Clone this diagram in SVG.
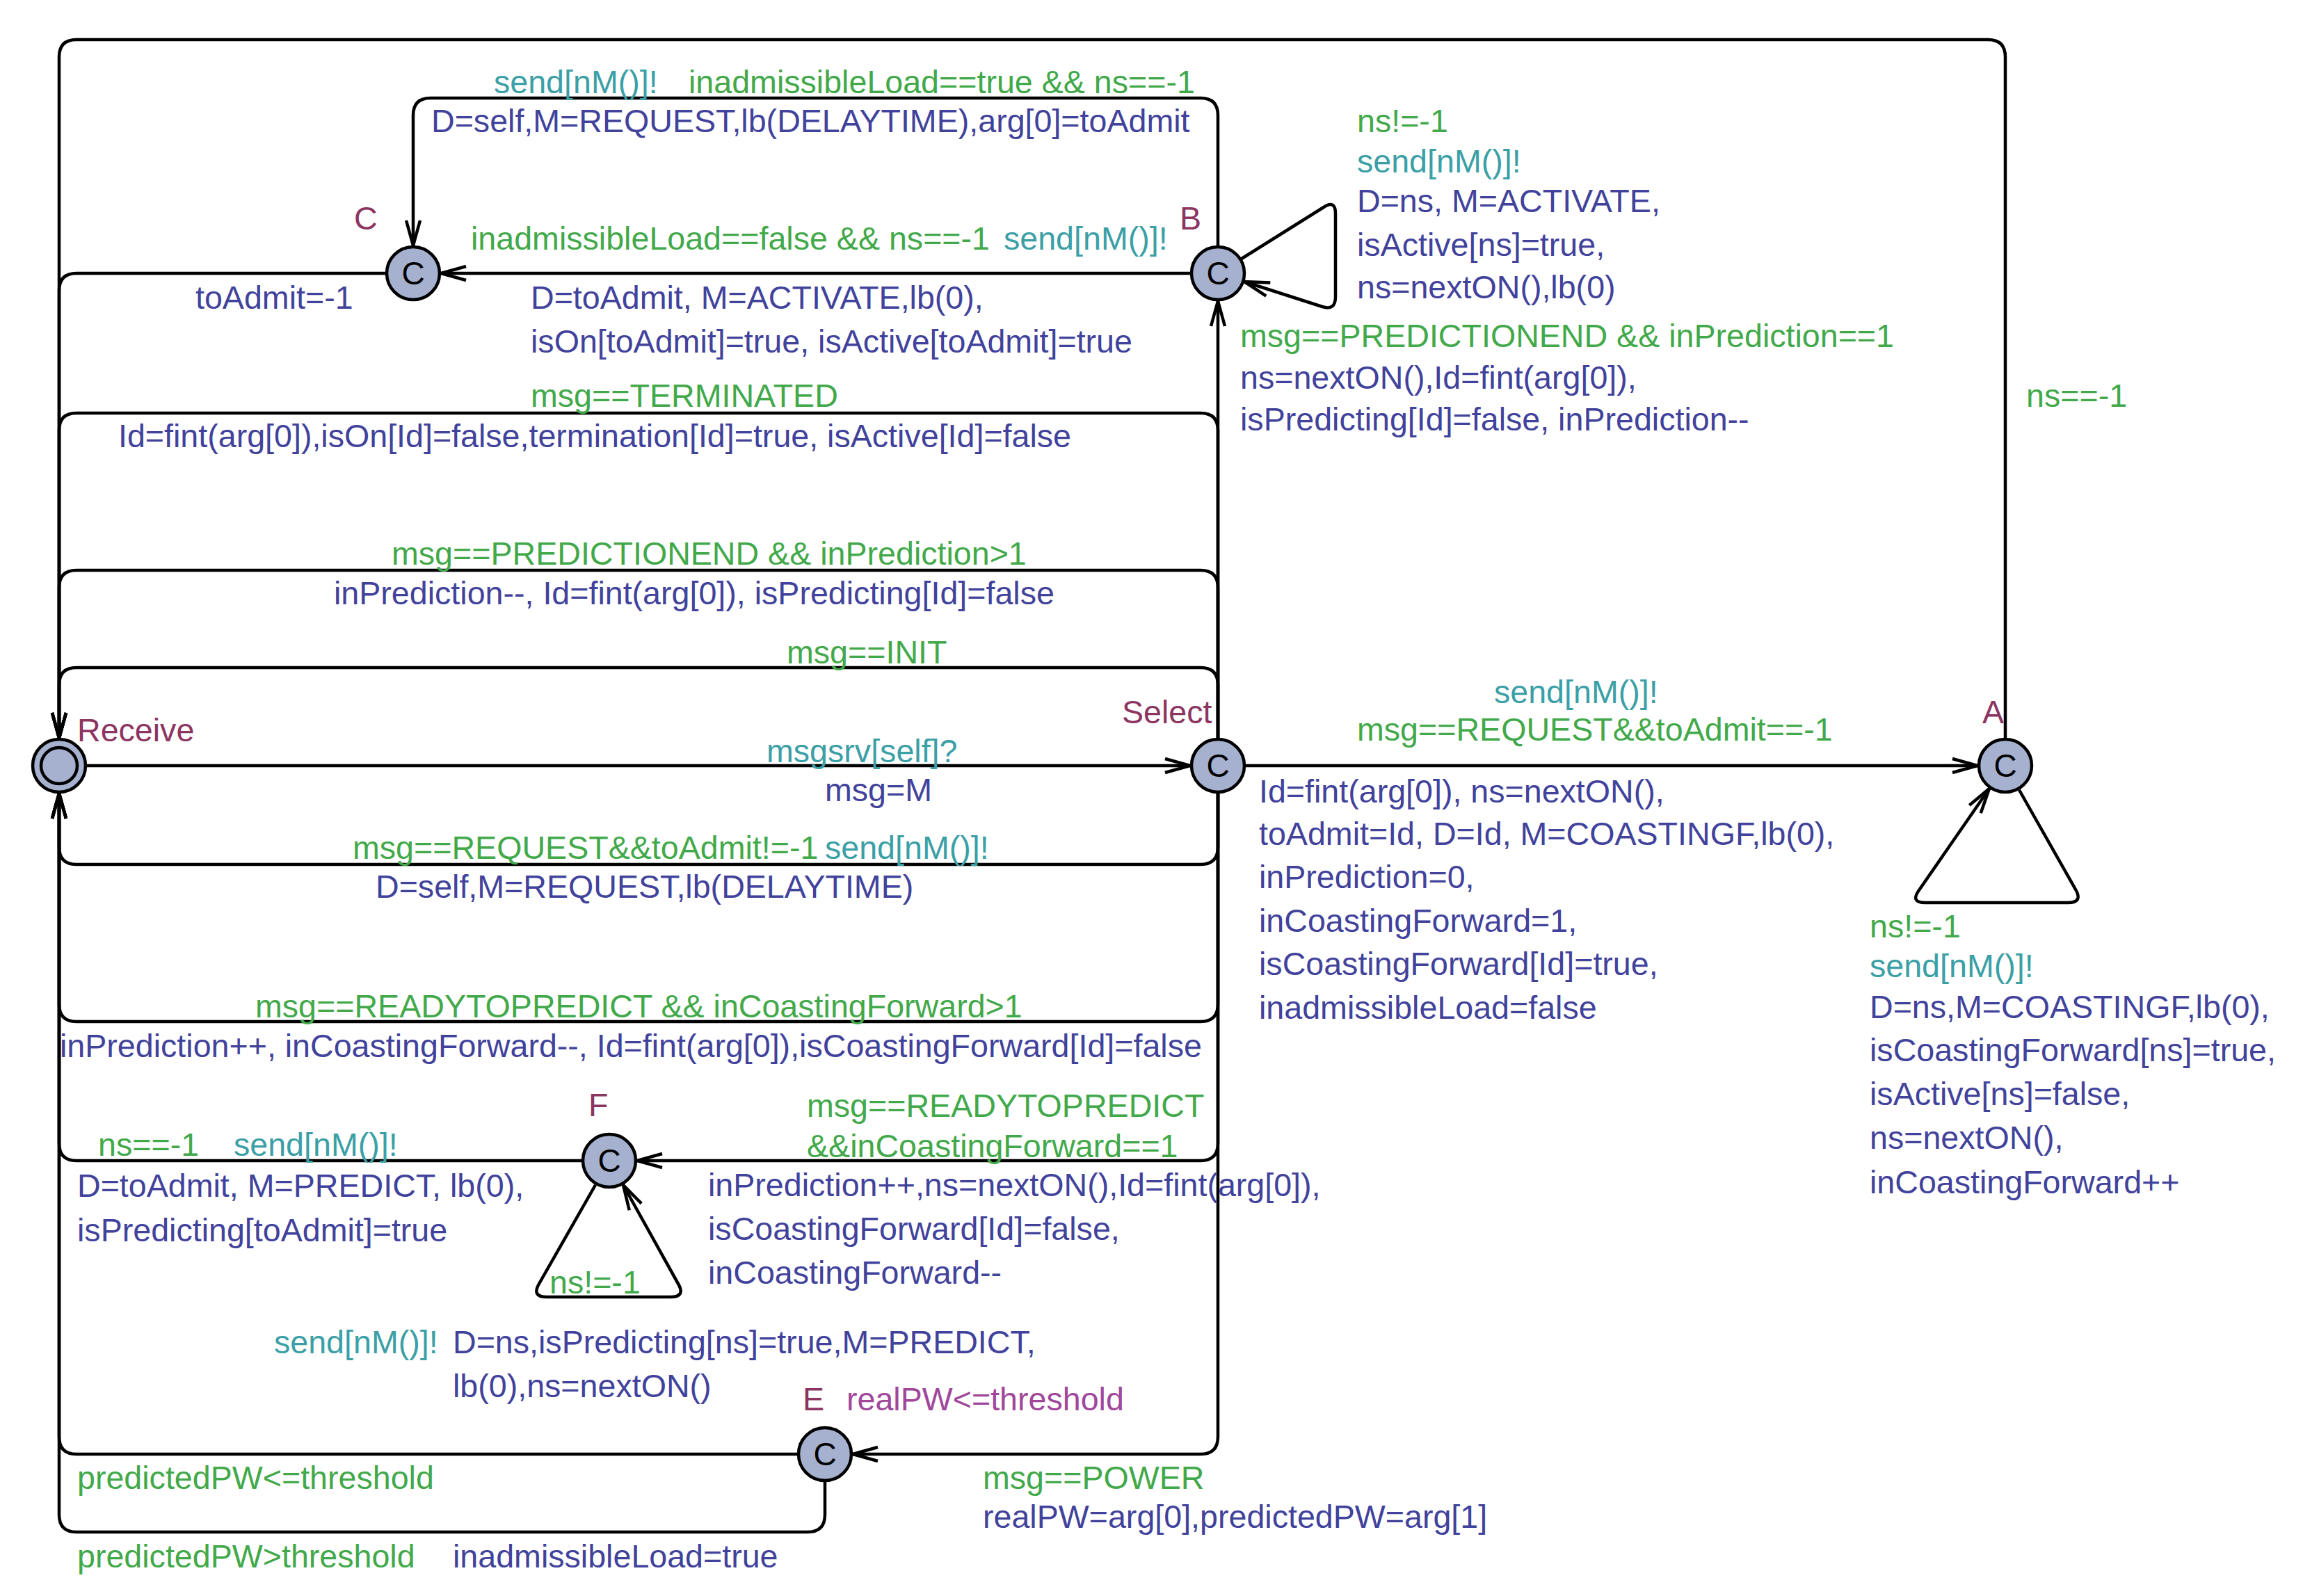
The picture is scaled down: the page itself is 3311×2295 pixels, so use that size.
<svg xmlns="http://www.w3.org/2000/svg" width="3311" height="2295" viewBox="0 0 3311 2295">
<style>
text{font-family:"Liberation Sans",Arial,sans-serif;font-size:46.6px}
.nm{fill:#8c3560}
.g{fill:#42a94a}
.s{fill:#3b9fa6}
.u{fill:#41429b}
.inv{fill:#a0479b}
.e{fill:none;stroke:#000;stroke-width:4.5;marker-end:url(#arr)}
.loc{fill:#a6b1cf;stroke:#000;stroke-width:4.5}
.cc{fill:#000;font-size:46px;text-anchor:middle}
</style>
<defs>
<marker id="arr" markerUnits="userSpaceOnUse" markerWidth="60" markerHeight="40" viewBox="-50 -20 60 40" refX="0" refY="0" orient="auto" overflow="visible">
<path d="M-36,-10 L0,0 L-36,10" fill="none" stroke="#000" stroke-width="4.5"/>
</marker>
</defs>
<rect width="3311" height="2295" fill="#fff"/>
<g id="edges">
<path class="e" d="M125 1101 L1711 1101"/>
<path class="e" d="M1791 1101 L2843 1101"/>
<path class="e" d="M2883 1061 L2883 82 Q2883 57 2858 57 L110 57 Q85 57 85 82 L85 1061"/>
<path class="e" d="M1751 1061 L1751 433"/>
<path class="e" d="M1751 353 L1751 166 Q1751 141 1726 141 L619 141 Q594 141 594 166 L594 353"/>
<path class="e" d="M1711 393 L634 393"/>
<path class="e" d="M554 393 L110 393 Q85 393 85 418 L85 1061"/>
<path class="e" d="M1751 1061 L1751 619 Q1751 594 1726 594 L110 594 Q85 594 85 619 L85 1061"/>
<path class="e" d="M1751 1061 L1751 845 Q1751 820 1726 820 L110 820 Q85 820 85 845 L85 1061"/>
<path class="e" d="M1751 1061 L1751 985 Q1751 960 1726 960 L110 960 Q85 960 85 985 L85 1061"/>
<path class="e" d="M1751 1141 L1751 1218 Q1751 1243 1726 1243 L110 1243 Q85 1243 85 1218 L85 1141"/>
<path class="e" d="M1751 1141 L1751 1444 Q1751 1469 1726 1469 L110 1469 Q85 1469 85 1444 L85 1141"/>
<path class="e" d="M1751 1141 L1751 1644 Q1751 1669 1726 1669 L916 1669"/>
<path class="e" d="M836 1669 L110 1669 Q85 1669 85 1644 L85 1141"/>
<path class="e" d="M856 1704 L775 1846 Q764 1865 786 1865 L964 1865 Q986 1865 975 1846 L896 1704"/>
<path class="e" d="M1751 1141 L1751 2066 Q1751 2091 1726 2091 L1226 2091"/>
<path class="e" d="M1146 2091 L110 2091 Q85 2091 85 2066 L85 1141"/>
<path class="e" d="M1186 2131 L1186 2178 Q1186 2203 1161 2203 L110 2203 Q85 2203 85 2178 L85 1141"/>
<path class="e" d="M1785 372 L1903 298 Q1920 287 1920 307 L1920 427 Q1920 447 1901 441 L1789 405"/>
<path class="e" d="M2903 1136 L2984 1279 Q2995 1298 2973 1298 L2768 1298 Q2746 1298 2759 1280 L2860 1134"/>
</g>
<g id="Receive">
<circle class="loc" cx="85" cy="1101" r="38"/>
<circle cx="85" cy="1101" r="26" fill="none" stroke="#000" stroke-width="4.5"/>
<text class="nm" x="111" y="1066">Receive</text>
</g>
<g id="Select">
<circle class="loc" cx="1751" cy="1101" r="38"/>
<text class="cc" x="1751" y="1117">C</text>
<text class="nm" x="1613" y="1040">Select</text>
</g>
<g id="A">
<circle class="loc" cx="2883" cy="1101" r="38"/>
<text class="cc" x="2883" y="1117">C</text>
<text class="nm" x="2850" y="1040">A</text>
</g>
<g id="B">
<circle class="loc" cx="1751" cy="393" r="38"/>
<text class="cc" x="1751" y="409">C</text>
<text class="nm" x="1696" y="330">B</text>
</g>
<g id="C">
<circle class="loc" cx="594" cy="393" r="38"/>
<text class="cc" x="594" y="409">C</text>
<text class="nm" x="509" y="330">C</text>
</g>
<g id="F">
<circle class="loc" cx="876" cy="1669" r="38"/>
<text class="cc" x="876" y="1685">C</text>
<text class="nm" x="846" y="1605">F</text>
</g>
<g id="E">
<circle class="loc" cx="1186" cy="2091" r="38"/>
<text class="cc" x="1186" y="2107">C</text>
<text class="nm" x="1154" y="2028">E</text>
<text class="inv" x="1217" y="2028">realPW&lt;=threshold</text>
</g>
<g id="labels">
<text class="s" x="710" y="134">send[nM()]!</text>
<text class="g" x="990" y="134">inadmissibleLoad==true &amp;&amp; ns==-1</text>
<text class="u" x="620" y="190">D=self,M=REQUEST,lb(DELAYTIME),arg[0]=toAdmit</text>
<text class="g" x="677" y="359">inadmissibleLoad==false &amp;&amp; ns==-1</text>
<text class="s" x="1443" y="359">send[nM()]!</text>
<text class="u" x="281" y="444">toAdmit=-1</text>
<text class="u" x="763" y="444">D=toAdmit, M=ACTIVATE,lb(0),</text>
<text class="u" x="763" y="507">isOn[toAdmit]=true, isActive[toAdmit]=true</text>
<text class="g" x="763" y="585">msg==TERMINATED</text>
<text class="u" x="170" y="643">Id=fint(arg[0]),isOn[Id]=false,termination[Id]=true, isActive[Id]=false</text>
<text class="g" x="1951" y="190">ns!=-1</text>
<text class="s" x="1951" y="248">send[nM()]!</text>
<text class="u" x="1951" y="305">D=ns, M=ACTIVATE,</text>
<text class="u" x="1951" y="368">isActive[ns]=true,</text>
<text class="u" x="1951" y="429">ns=nextON(),lb(0)</text>
<text class="g" x="1783" y="499">msg==PREDICTIONEND &amp;&amp; inPrediction==1</text>
<text class="u" x="1783" y="559">ns=nextON(),Id=fint(arg[0]),</text>
<text class="u" x="1783" y="619">isPredicting[Id]=false, inPrediction--</text>
<text class="g" x="2913" y="585">ns==-1</text>
<text class="g" x="563" y="812">msg==PREDICTIONEND &amp;&amp; inPrediction&gt;1</text>
<text class="u" x="480" y="869">inPrediction--, Id=fint(arg[0]), isPredicting[Id]=false</text>
<text class="g" x="1131" y="954">msg==INIT</text>
<text class="s" x="1102" y="1096">msgsrv[self]?</text>
<text class="u" x="1186" y="1152">msg=M</text>
<text class="g" x="507" y="1235">msg==REQUEST&amp;&amp;toAdmit!=-1</text>
<text class="s" x="1186" y="1235">send[nM()]!</text>
<text class="u" x="540" y="1291">D=self,M=REQUEST,lb(DELAYTIME)</text>
<text class="s" x="2148" y="1011">send[nM()]!</text>
<text class="g" x="1951" y="1065">msg==REQUEST&amp;&amp;toAdmit==-1</text>
<text class="u" x="1810" y="1154">Id=fint(arg[0]), ns=nextON(),</text>
<text class="u" x="1810" y="1215">toAdmit=Id, D=Id, M=COASTINGF,lb(0),</text>
<text class="u" x="1810" y="1277">inPrediction=0,</text>
<text class="u" x="1810" y="1340">inCoastingForward=1,</text>
<text class="u" x="1810" y="1402">isCoastingForward[Id]=true,</text>
<text class="u" x="1810" y="1465">inadmissibleLoad=false</text>
<text class="g" x="2688" y="1348">ns!=-1</text>
<text class="s" x="2688" y="1405">send[nM()]!</text>
<text class="u" x="2688" y="1464">D=ns,M=COASTINGF,lb(0),</text>
<text class="u" x="2688" y="1526">isCoastingForward[ns]=true,</text>
<text class="u" x="2688" y="1589">isActive[ns]=false,</text>
<text class="u" x="2688" y="1652">ns=nextON(),</text>
<text class="u" x="2688" y="1716">inCoastingForward++</text>
<text class="g" x="367" y="1463">msg==READYTOPREDICT &amp;&amp; inCoastingForward&gt;1</text>
<text class="u" x="86" y="1520">inPrediction++, inCoastingForward--, Id=fint(arg[0]),isCoastingForward[Id]=false</text>
<text class="g" x="1160" y="1606">msg==READYTOPREDICT</text>
<text class="g" x="1160" y="1664">&amp;&amp;inCoastingForward==1</text>
<text class="g" x="141" y="1662">ns==-1</text>
<text class="s" x="336" y="1662">send[nM()]!</text>
<text class="u" x="111" y="1721">D=toAdmit, M=PREDICT, lb(0),</text>
<text class="u" x="111" y="1785">isPredicting[toAdmit]=true</text>
<text class="u" x="1018" y="1720">inPrediction++,ns=nextON(),Id=fint(arg[0]),</text>
<text class="u" x="1018" y="1783">isCoastingForward[Id]=false,</text>
<text class="u" x="1018" y="1846">inCoastingForward--</text>
<text class="g" x="790" y="1860">ns!=-1</text>
<text class="s" x="394" y="1946">send[nM()]!</text>
<text class="u" x="651" y="1946">D=ns,isPredicting[ns]=true,M=PREDICT,</text>
<text class="u" x="651" y="2009">lb(0),ns=nextON()</text>
<text class="g" x="1413" y="2141">msg==POWER</text>
<text class="u" x="1413" y="2197">realPW=arg[0],predictedPW=arg[1]</text>
<text class="g" x="111" y="2141">predictedPW&lt;=threshold</text>
<text class="g" x="111" y="2254">predictedPW&gt;threshold</text>
<text class="u" x="651" y="2254">inadmissibleLoad=true</text>
</g>
</svg>
